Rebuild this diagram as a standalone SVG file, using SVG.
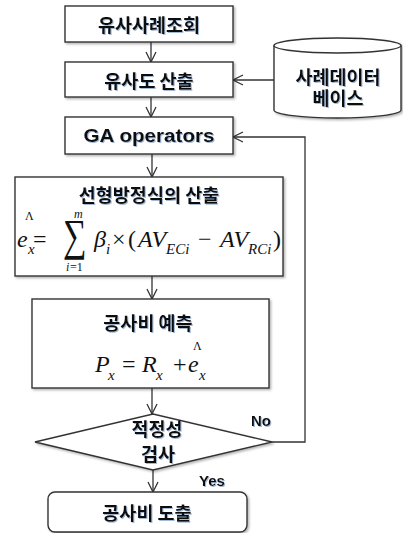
<svg xmlns="http://www.w3.org/2000/svg" width="403" height="533" viewBox="0 0 403 533">
<defs>
<filter id="sh" x="-10%" y="-10%" width="130%" height="130%"><feDropShadow dx="1.5" dy="1.5" stdDeviation="1" flood-color="#000" flood-opacity="0.3"/></filter>
<filter id="tsh" x="-10%" y="-20%" width="130%" height="150%"><feDropShadow dx="1" dy="1" stdDeviation="0.7" flood-color="#7f9cc4" flood-opacity="0.7"/></filter>
<marker id="ah" markerWidth="12" markerHeight="12" viewBox="0 0 12 12" refX="11" refY="6" orient="auto" markerUnits="userSpaceOnUse">
<path d="M1,1 L11,6 L1,11" fill="none" stroke="#333" stroke-width="1.3"/>
</marker>
</defs>
<style>
.box{fill:#fff;stroke:#333;stroke-width:1.4;filter:url(#sh)}
.kt{font-family:"Noto Sans CJK KR","Noto Sans",sans-serif;font-weight:bold;font-size:18.5px;fill:#111;text-anchor:middle;dominant-baseline:central;filter:url(#tsh)}
.et{font-family:"Liberation Sans",Arial,sans-serif;font-weight:bold;font-size:15px;fill:#111;text-anchor:middle;dominant-baseline:central;filter:url(#tsh)}
.m{font-family:"Liberation Serif","Times New Roman",serif;font-style:italic;font-size:24px;fill:#111}
.mr{font-family:"Liberation Serif","Times New Roman",serif;font-size:24px;fill:#111}
.ms{font-family:"Liberation Serif","Times New Roman",serif;font-style:italic;font-size:15px;fill:#111}
.ml{font-family:"Liberation Serif","Times New Roman",serif;font-size:12px;fill:#111}
.c{fill:none;stroke:#333;stroke-width:1.3}
</style>

<g id="connectors">
<line class="c" x1="151" y1="42" x2="151" y2="62" marker-end="url(#ah)"/>
<line class="c" x1="151" y1="97" x2="151" y2="117" marker-end="url(#ah)"/>
<line class="c" x1="152" y1="154" x2="152" y2="177" marker-end="url(#ah)"/>
<line class="c" x1="152" y1="276" x2="152" y2="299" marker-end="url(#ah)"/>
<line class="c" x1="152" y1="388" x2="152" y2="414" marker-end="url(#ah)"/>
<line class="c" x1="153" y1="470" x2="153" y2="492" marker-end="url(#ah)"/>
<line class="c" x1="274" y1="80" x2="233" y2="80" marker-end="url(#ah)"/>
<polyline class="c" points="272,442 305,442 305,137 233,137" marker-end="url(#ah)"/>
<text class="et" x="261" y="420">No</text>
<text class="et" x="212" y="480">Yes</text>
</g>

<g id="n1">
<rect class="box" x="65" y="6" width="168" height="36"/>
<text class="kt" x="149" y="24">유사사례조회</text>
</g>

<g id="n2">
<rect class="box" x="65" y="62" width="168" height="35"/>
<text class="kt" x="149" y="80">유사도 산출</text>
</g>

<g id="db">
<path class="box" d="M274,45.5 L274,110 A63.5,8 0 0 0 401,110 L401,45.5 A63.5,7.5 0 0 0 274,45.5 Z"/>
<path d="M274,45.5 A63.5,7.5 0 0 0 401,45.5" fill="none" stroke="#333" stroke-width="1.4"/>
<text class="kt" x="338" y="76">사례데이터</text>
<text class="kt" x="338" y="97">베이스</text>
</g>

<g id="n3">
<rect class="box" x="65" y="117" width="168" height="37"/>
<text class="et" x="149" y="136" style="font-size:18px" textLength="131" lengthAdjust="spacingAndGlyphs">GA operators</text>
</g>

<g id="n4">
<rect class="box" x="15" y="177" width="268" height="99"/>
<text class="kt" x="149" y="194">선형방정식의 산출</text>
<text class="ml" x="25" y="220">Λ</text>
<text class="m" x="17" y="247">e</text>
<text class="ms" x="28" y="254">x</text>
<text class="mr" x="33" y="247">=</text>
<text class="mr" transform="translate(63,250) scale(1,1.35)" style="font-size:33px">∑</text>
<text class="ms" x="74" y="218" style="font-size:12px">m</text>
<text class="ms" x="66" y="271" style="font-size:12px">i</text>
<text class="ml" x="70" y="271">=1</text>
<text class="m" x="94" y="247">β</text>
<text class="ms" x="106" y="254">i</text>
<text class="mr" x="112" y="247">×</text>
<text class="mr" x="128" y="247">(</text>
<text class="m" x="138" y="247">AV</text>
<text class="ms" x="166" y="254">ECi</text>
<text class="mr" x="198" y="247">−</text>
<text class="m" x="220" y="247">AV</text>
<text class="ms" x="248" y="254">RCi</text>
<text class="mr" x="273" y="247">)</text>
</g>

<g id="n5">
<rect class="box" x="32" y="299" width="237" height="89"/>
<text class="kt" x="148" y="322">공사비 예측</text>
<text class="m" x="95" y="372">P</text>
<text class="ms" x="108" y="380">x</text>
<text class="mr" x="122" y="372">=</text>
<text class="m" x="142" y="372">R</text>
<text class="ms" x="156" y="380">x</text>
<text class="mr" x="173" y="372">+</text>
<text class="m" x="188" y="372">e</text>
<text class="ms" x="199" y="380">x</text>
<text class="ml" x="193" y="350">Λ</text>
</g>

<g id="n6">
<polygon class="box" points="35,442 153,414 272,442 153,470"/>
<text class="kt" x="157" y="428">적정성</text>
<text class="kt" x="158" y="453">검사</text>
</g>

<g id="n7">
<rect class="box" x="48" y="492" width="199" height="40" rx="7"/>
<text class="kt" x="147" y="512">공사비 도출</text>
</g>
</svg>
